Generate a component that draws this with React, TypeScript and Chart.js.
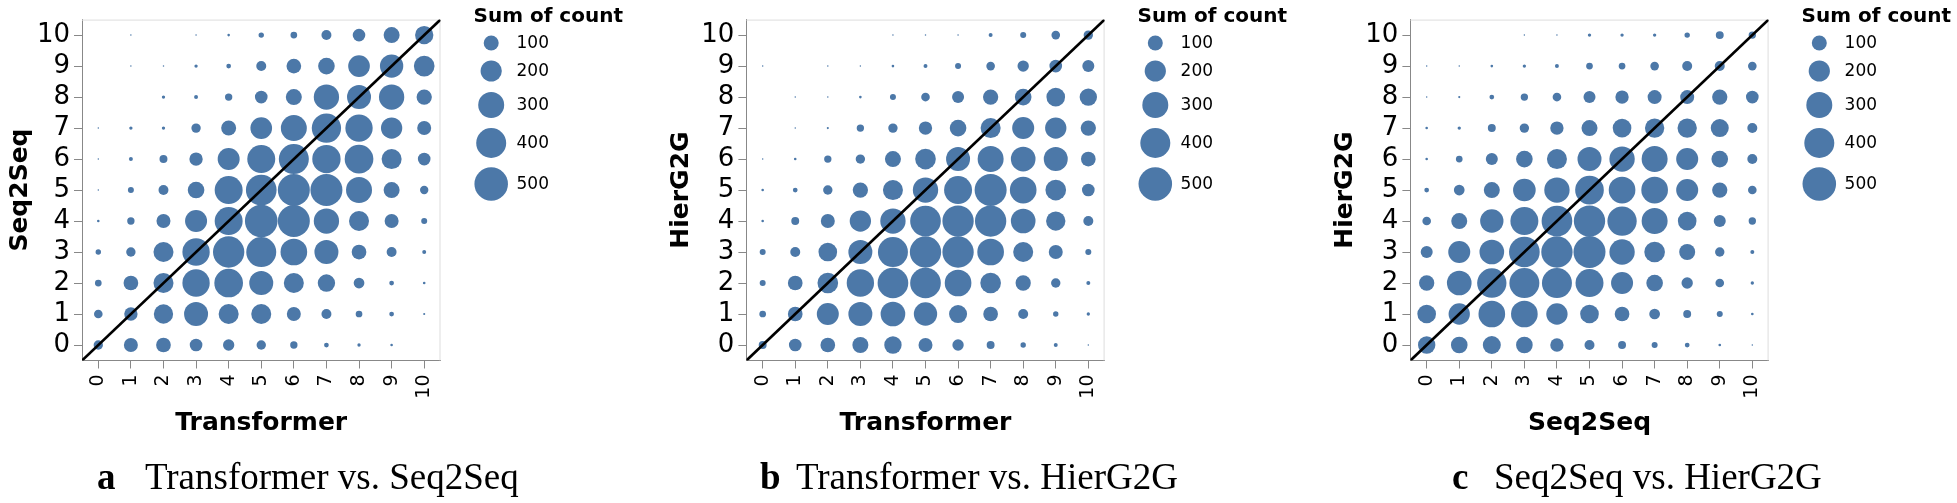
import React, { useEffect, useRef } from "react";
import { Chart, registerables } from "chart.js";

Chart.register(...registerables);

// ---------- data ----------
const gridTicks = [0, 1, 2, 3, 4, 5, 6, 7, 8, 9, 10];
const legendCounts = [100, 200, 300, 400, 500];

// Sum of count per (x, y) cell. Rows are listed from y = 10 (top) down to y = 0; columns x = 0..10
const transformerVsSeq2Seq = [
  [0, 1, 0, 1, 3, 13, 20, 44, 71, 114, 149],
  [0, 1, 1, 5, 10, 44, 96, 123, 209, 242, 190],
  [0, 0, 5, 7, 24, 71, 114, 285, 256, 285, 104],
  [1, 5, 5, 39, 100, 209, 300, 382, 332, 202, 87],
  [1, 7, 28, 79, 215, 348, 400, 357, 365, 178, 71],
  [1, 16, 44, 123, 348, 418, 455, 455, 300, 114, 31],
  [3, 24, 87, 215, 348, 474, 455, 285, 178, 87, 16],
  [13, 39, 178, 332, 436, 400, 316, 256, 96, 44, 7],
  [20, 96, 178, 332, 365, 256, 178, 134, 51, 10, 3],
  [33, 79, 166, 256, 178, 178, 87, 44, 20, 10, 2],
  [39, 87, 96, 71, 57, 39, 24, 10, 5, 3, 0],
];

const transformerVsHierG2G = [
  [0, 0, 0, 0, 1, 1, 1, 7, 16, 33, 39],
  [1, 0, 1, 1, 3, 7, 16, 33, 57, 71, 64],
  [0, 1, 1, 3, 16, 33, 64, 104, 123, 155, 134],
  [0, 1, 2, 24, 39, 79, 123, 178, 215, 202, 104],
  [1, 3, 24, 39, 114, 190, 256, 300, 270, 256, 96],
  [3, 10, 39, 104, 178, 285, 348, 455, 316, 190, 71],
  [3, 28, 87, 202, 285, 418, 436, 436, 270, 166, 44],
  [16, 44, 155, 256, 400, 436, 436, 316, 178, 87, 16],
  [16, 96, 190, 332, 418, 418, 316, 190, 104, 39, 7],
  [20, 96, 215, 256, 270, 242, 144, 96, 44, 13, 5],
  [28, 71, 96, 114, 134, 87, 57, 28, 13, 7, 1],
];

const seq2seqVsHierG2G = [
  [0, 0, 0, 1, 1, 5, 5, 5, 13, 28, 24],
  [1, 1, 3, 5, 7, 20, 20, 33, 44, 44, 33],
  [1, 2, 10, 24, 33, 64, 79, 87, 87, 104, 71],
  [3, 5, 28, 39, 79, 114, 155, 166, 166, 144, 44],
  [3, 20, 64, 123, 178, 256, 285, 300, 215, 123, 44],
  [10, 51, 114, 228, 285, 365, 316, 316, 215, 104, 33],
  [33, 114, 242, 348, 418, 436, 382, 300, 155, 64, 24],
  [64, 215, 270, 418, 436, 455, 285, 190, 114, 39, 7],
  [104, 270, 382, 400, 400, 348, 215, 123, 57, 33, 5],
  [155, 202, 316, 316, 202, 155, 96, 51, 28, 16, 3],
  [134, 123, 144, 123, 79, 44, 28, 16, 10, 3, 1],
];

const xTitles = ["Transformer", "Transformer", "Seq2Seq"];
const yTitles = ["Seq2Seq", "HierG2G", "HierG2G"];
const captionLetters = ["a", "b", "c"];
const captionTexts = ["Transformer vs. Seq2Seq", "Transformer vs. HierG2G", "Seq2Seq vs. HierG2G"];
const legendTitle = "Sum of count";

// ---------- style / layout ----------
const BLUE = "#4c78a8";
const FONT = "'DejaVu Sans', sans-serif";
const R_PER_SQRT = 0.75; // circle radius = k * sqrt(count)
const H = 503;
const PLOT_TOP = 6.5;
const PLOT_BOTTOM = 360.5;
const Y_AXIS_W = 82;
const X_AXIS_H = 80;
const AXIS_TITLE_SIZE = 25;

const panels = [
  { matrix: transformerVsSeq2Seq, canvasLeft: 0, canvasWidth: 655, plotLeft: 82, plotRight: 440.5, yTitleCenter: 20, letterX: 97, textX: 145 },
  { matrix: transformerVsHierG2G, canvasLeft: 655, canvasWidth: 655, plotLeft: 746.4, plotRight: 1104.6, yTitleCenter: 681, letterX: 760, textX: 796 },
  { matrix: seq2seqVsHierG2G, canvasLeft: 1310, canvasWidth: 647, plotLeft: 1410.4, plotRight: 1768.6, yTitleCenter: 1345, letterX: 1452, textX: 1494 },
];

const frameAndLegend = {
  id: "frameAndLegend",
  beforeDatasetsDraw(chart: any) {
    const { ctx, chartArea } = chart;
    ctx.save();
    ctx.strokeStyle = "#dddddd";
    ctx.lineWidth = 1;
    ctx.beginPath();
    ctx.moveTo(chartArea.left, chartArea.top + 0.5);
    ctx.lineTo(chartArea.right, chartArea.top + 0.5);
    ctx.moveTo(chartArea.right - 0.5, chartArea.top);
    ctx.lineTo(chartArea.right - 0.5, chartArea.bottom);
    ctx.stroke();
    ctx.restore();
  },
  afterDraw(chart: any) {
    const { ctx, chartArea } = chart;
    const x0 = chartArea.right + 33;
    ctx.save();
    ctx.fillStyle = "#000";
    ctx.textAlign = "left";
    ctx.textBaseline = "alphabetic";
    ctx.font = `bold 20px ${FONT}`;
    ctx.fillText(legendTitle, x0, 22);
    const ys = [43, 71, 105, 143, 184];
    legendCounts.forEach((v, i) => {
      const r = R_PER_SQRT * Math.sqrt(v);
      ctx.beginPath();
      ctx.arc(x0 + 17.7, ys[i], r, 0, Math.PI * 2);
      ctx.fillStyle = BLUE;
      ctx.fill();
      ctx.fillStyle = "#000";
      ctx.font = `17px ${FONT}`;
      ctx.textBaseline = "middle";
      ctx.fillText(String(v), x0 + 43, ys[i] + 1);
    });
    ctx.restore();
  },
};

function Panel({ index }: { index: number }) {
  const ref = useRef<HTMLCanvasElement | null>(null);
  const p = panels[index];
  useEffect(() => {
    if (!ref.current) return;
    const bubbles: { x: number; y: number; r: number }[] = [];
    p.matrix.forEach((row, ri) => {
      const yv = gridTicks[gridTicks.length - 1 - ri];
      row.forEach((v, ci) => {
        if (v > 0) bubbles.push({ x: gridTicks[ci], y: yv, r: R_PER_SQRT * Math.sqrt(v) });
      });
    });
    const padLeft = p.plotLeft - p.canvasLeft - Y_AXIS_W;
    const padRight = p.canvasWidth - (p.plotRight - p.canvasLeft);
    const yTitlePad = p.yTitleCenter - (p.canvasLeft + padLeft) - (AXIS_TITLE_SIZE * 1.2) / 2;
    const lo = gridTicks[0] - 0.5;
    const hi = gridTicks[gridTicks.length - 1] + 0.5;
    const chart = new Chart(ref.current, {
      type: "bubble",
      data: {
        datasets: [
          {
            type: "line",
            data: [
              { x: lo, y: lo },
              { x: hi, y: hi },
            ],
            borderColor: "#000",
            borderWidth: 2.7,
            pointRadius: 0,
            order: 0,
          } as any,
          {
            type: "bubble",
            data: bubbles,
            backgroundColor: BLUE,
            borderWidth: 0,
            hoverBorderWidth: 0,
            order: 1,
          } as any,
        ],
      },
      options: {
        responsive: false,
        maintainAspectRatio: false,
        animation: false,
        events: [],
        layout: { padding: { left: padLeft, right: padRight, top: PLOT_TOP, bottom: H - PLOT_BOTTOM - X_AXIS_H } },
        plugins: { legend: { display: false }, tooltip: { enabled: false } },
        scales: {
          x: {
            type: "linear",
            min: lo,
            max: hi,
            afterBuildTicks: (s: any) => {
              s.ticks = gridTicks.map((v) => ({ value: v }));
            },
            afterFit: (s: any) => {
              s.height = X_AXIS_H;
            },
            grid: { drawOnChartArea: false, drawTicks: true, tickLength: 8, color: "#888", lineWidth: 1 },
            border: { display: true, color: "#888", width: 1 },
            ticks: {
              color: "#000",
              font: { family: FONT, size: 19 },
              padding: 6,
              minRotation: 90,
              maxRotation: 90,
              autoSkip: false,
              callback: (v: any) => String(v),
            },
            title: {
              display: true,
              text: xTitles[index],
              color: "#000",
              font: { family: FONT, size: AXIS_TITLE_SIZE, weight: "bold" },
              padding: { top: 0, bottom: 2 },
            },
          },
          y: {
            type: "linear",
            min: lo,
            max: hi,
            afterBuildTicks: (s: any) => {
              s.ticks = gridTicks.map((v) => ({ value: v }));
            },
            afterFit: (s: any) => {
              s.width = Y_AXIS_W;
            },
            grid: { drawOnChartArea: false, drawTicks: true, tickLength: 8, color: "#888", lineWidth: 1 },
            border: { display: true, color: "#888", width: 1 },
            ticks: {
              color: "#000",
              font: { family: FONT, size: 26 },
              padding: 4,
              autoSkip: false,
              callback: (v: any) => String(v),
            },
            title: {
              display: true,
              text: yTitles[index],
              color: "#000",
              font: { family: FONT, size: AXIS_TITLE_SIZE, weight: "bold" },
              padding: { top: yTitlePad, bottom: 0 },
            },
          },
        },
      },
      plugins: [frameAndLegend],
    });
    return () => chart.destroy();
  }, [index]);
  return (
    <canvas
      ref={ref}
      width={p.canvasWidth}
      height={H}
      style={{ position: "absolute", left: p.canvasLeft, top: 0, width: p.canvasWidth, height: H }}
    />
  );
}

export default function App() {
  return (
    <div style={{ position: "absolute", left: 0, top: 0, width: 1957, height: H, background: "#fff", overflow: "hidden" }}>
      {panels.map((p, i) => (
        <Panel key={i} index={i} />
      ))}
      {panels.map((p, i) => (
        <React.Fragment key={"cap" + i}>
          <div
            style={{
              position: "absolute",
              left: p.letterX,
              top: 458,
              fontFamily: "'Liberation Serif', serif",
              fontWeight: "bold",
              fontSize: 37,
              lineHeight: "37px",
              whiteSpace: "nowrap",
            }}
          >
            {captionLetters[i]}
          </div>
          <div
            style={{
              position: "absolute",
              left: p.textX,
              top: 458,
              fontFamily: "'Liberation Serif', serif",
              fontSize: 37,
              lineHeight: "37px",
              whiteSpace: "nowrap",
            }}
          >
            {captionTexts[i]}
          </div>
        </React.Fragment>
      ))}
    </div>
  );
}
